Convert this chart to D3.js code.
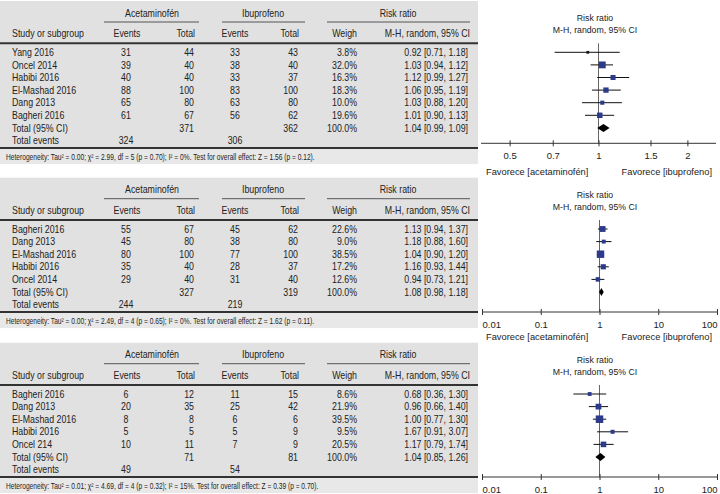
<!DOCTYPE html>
<html><head><meta charset="utf-8">
<script src="https://cdn.jsdelivr.net/npm/d3@7"></script>
<style>body{margin:0;background:#fff}svg{display:block}</style>
</head><body>
<svg id="chart" width="720" height="494"></svg>
<script>
// panel 1
var studies1 = ["Yang 2016", "Oncel 2014", "Habibi 2016", "El-Mashad 2016", "Dang 2013", "Bagheri 2016"];
var acetEvents1 = [31, 39, 40, 88, 65, 61];
var acetTotal1 = [44, 40, 40, 100, 80, 67];
var ibuEvents1 = [33, 38, 33, 83, 63, 56];
var ibuTotal1 = [43, 40, 37, 100, 80, 62];
var weight1 = [3.8, 32.0, 16.3, 18.3, 10.0, 19.6];
var rr1 = [0.92, 1.03, 1.12, 1.06, 1.03, 1.01];
var lo1 = [0.71, 0.94, 0.99, 0.95, 0.88, 0.90];
var hi1 = [1.18, 1.12, 1.27, 1.19, 1.20, 1.13];
var pooled1 = [1.04, 0.99, 1.09];
var sums1 = [324, 371, 306, 362];
var het1 = "Heterogeneity: Tau\u00b2 = 0.00; \u03c7\u00b2 = 2.99, df = 5 (p = 0.70); I\u00b2 = 0%. Test for overall effect: Z = 1.56 (p = 0.12).";
var ticks1 = [0.5, 0.7, 1, 1.5, 2];

// panel 2
var studies2 = ["Bagheri 2016", "Dang 2013", "El-Mashad 2016", "Habibi 2016", "Oncel 2014"];
var acetEvents2 = [55, 45, 80, 35, 29];
var acetTotal2 = [67, 80, 100, 40, 40];
var ibuEvents2 = [45, 38, 77, 28, 31];
var ibuTotal2 = [62, 80, 100, 37, 40];
var weight2 = [22.6, 9.0, 38.5, 17.2, 12.6];
var rr2 = [1.13, 1.18, 1.04, 1.16, 0.94];
var lo2 = [0.94, 0.88, 0.90, 0.93, 0.73];
var hi2 = [1.37, 1.60, 1.20, 1.44, 1.21];
var pooled2 = [1.08, 0.98, 1.18];
var sums2 = [244, 327, 219, 319];
var het2 = "Heterogeneity: Tau\u00b2 = 0.00; \u03c7\u00b2 = 2.49, df = 4 (p = 0.65); I\u00b2 = 0%. Test for overall effect: Z = 1.62 (p = 0.11).";

// panel 3
var studies3 = ["Bagheri 2016", "Dang 2013", "El-Mashad 2016", "Habibi 2016", "Oncel 214"];
var acetEvents3 = [6, 20, 8, 5, 10];
var acetTotal3 = [12, 35, 8, 5, 11];
var ibuEvents3 = [11, 25, 6, 5, 7];
var ibuTotal3 = [15, 42, 6, 9, 9];
var weight3 = [8.6, 21.9, 39.5, 9.5, 20.5];
var rr3 = [0.68, 0.96, 1.00, 1.67, 1.17];
var lo3 = [0.36, 0.66, 0.77, 0.91, 0.79];
var hi3 = [1.30, 1.40, 1.30, 3.07, 1.74];
var pooled3 = [1.04, 0.85, 1.26];
var sums3 = [49, 71, 54, 81];
var het3 = "Heterogeneity: Tau\u00b2 = 0.01; \u03c7\u00b2 = 4.69, df = 4 (p = 0.32); I\u00b2 = 15%. Test for overall effect: Z = 0.39 (p = 0.70).";
var ticks23 = [0.01, 0.1, 1, 10, 100];

var svg = d3.select("#chart");
var font = "'Liberation Sans',Arial,sans-serif";
var ink = "#222";
var f2 = d3.format(".2f"), f1 = d3.format(".1f");

// table text is condensed, so squeeze it horizontally
function txt(g, x, y, s, anchor, size, sx) {
    return g.append("text")
        .attr("transform", "translate(" + x + "," + y + ") scale(" + (sx || 0.84) + ",1)")
        .attr("dy", "0.35em")
        .attr("text-anchor", anchor || "start")
        .style("font-family", font)
        .style("font-size", (size || 10.5) + "px")
        .style("fill", ink)
        .text(s);
}

function drawPanel(p) {
    var g = svg.append("g").attr("transform", "translate(0," + p.top + ")");
    var n = p.studies.length;
    var rowY = function(i){ return 52.3 + i * 12.6; };
    var eventsY = rowY(n + 1);
    var lineY = eventsY + 7.5, hetY = lineY + 9, bottom = hetY + 7;

    g.append("rect").attr("x", 0).attr("y", 1).attr("width", 478).attr("height", lineY - 1).style("fill", "#e1e1e1");
    g.append("rect").attr("x", 0).attr("y", lineY).attr("width", 478).attr("height", bottom - lineY).style("fill", "#e8e8e8");

    // group headers
    txt(g, 152, 13, "Acetaminof\u00e9n", "middle");
    txt(g, 263, 13, "Ibuprofeno", "middle");
    txt(g, 398, 13, "Risk ratio", "middle");
    [[104, 199], [222, 305], [327, 470]].forEach(function(s){
        g.append("line").attr("x1", s[0]).attr("x2", s[1]).attr("y1", 22).attr("y2", 22)
            .style("stroke", "#555").style("stroke-width", 1);
    });
    txt(g, 12, 33.3, "Study or subgroup");
    txt(g, 127, 33.3, "Events", "middle");
    txt(g, 195, 33.3, "Total", "end");
    txt(g, 235, 33.3, "Events", "middle");
    txt(g, 299, 33.3, "Total", "end");
    txt(g, 357, 33.3, "Weigh", "end");
    txt(g, 470, 33.3, "M-H, random, 95% CI", "end");

    [43.3, lineY].forEach(function(y){
        g.append("line").attr("x1", 0).attr("x2", 478).attr("y1", y).attr("y2", y)
            .style("stroke", "#333").style("stroke-width", 2);
    });

    var rows = p.studies.map(function(s, i){
        return {name: s, ae: p.acetEvents[i], at: p.acetTotal[i], ie: p.ibuEvents[i], it: p.ibuTotal[i],
                w: p.weight[i], rr: p.rr[i], lo: p.lo[i], hi: p.hi[i], y: rowY(i)};
    });
    rows.forEach(function(r){
        txt(g, 12, r.y, r.name);
        txt(g, 126, r.y, r.ae, "middle");
        txt(g, 194, r.y, r.at, "end");
        txt(g, 235, r.y, r.ie, "middle");
        txt(g, 298, r.y, r.it, "end");
        txt(g, 357, r.y, f1(r.w) + "%", "end");
        txt(g, 468, r.y, f2(r.rr) + " [" + f2(r.lo) + ", " + f2(r.hi) + "]", "end");
    });
    var ty = rowY(n);
    txt(g, 12, ty, "Total (95% CI)");
    txt(g, 194, ty, p.sums[1], "end");
    txt(g, 298, ty, p.sums[3], "end");
    txt(g, 357, ty, "100.0%", "end");
    txt(g, 468, ty, f2(p.pooled[0]) + " [" + f2(p.pooled[1]) + ", " + f2(p.pooled[2]) + "]", "end");
    txt(g, 12, eventsY, "Total events");
    txt(g, 126, eventsY, p.sums[0], "middle");
    txt(g, 235, eventsY, p.sums[2], "middle");
    txt(g, 6, hetY, p.het, "start", 8.3, 0.8);

    // forest plot
    var x = d3.scaleLog().domain(p.domain).range(p.range);
    var ay = p.axisY - p.top;
    txt(g, 595, 17.5, "Risk ratio", "middle", 9.5, 0.92);
    txt(g, 595, 30, "M-H, random, 95% CI", "middle", 9.5, 0.92);
    g.append("line").attr("x1", x(1)).attr("x2", x(1)).attr("y1", 43.3).attr("y2", ay)
        .style("stroke", "#666").style("stroke-width", 1);

    var axis = d3.axisBottom(x).tickValues(p.ticks).tickFormat(d3.format("")).tickSizeInner(3).tickSizeOuter(0).tickPadding(6);
    var ag = g.append("g").attr("transform", "translate(0," + ay + ")").call(axis);
    ag.select(".domain").attr("d", "M" + p.range[0] + ",0H" + p.range[1]).style("stroke", "#333");
    ag.selectAll(".tick line").attr("y1", -3).attr("y2", 3).style("stroke", "#333");
    var last = p.ticks.length - 1;
    ag.selectAll(".tick text")
        .style("font-family", font).style("font-size", "9.5px").style("fill", ink)
        .attr("text-anchor", function(d, i){
            if (!p.clamp) return "middle";
            return i === 0 ? "start" : (i === last ? "end" : "middle");
        });

    rows.forEach(function(r){
        g.append("line").attr("x1", x(r.lo)).attr("x2", x(r.hi)).attr("y1", r.y).attr("y2", r.y)
            .style("stroke", "#111").style("stroke-width", 1);
        var s = 1.1 * Math.sqrt(r.w) + 0.6;
        g.append("rect").attr("x", x(r.rr) - s / 2).attr("y", r.y - s / 2).attr("width", s).attr("height", s)
            .style("fill", r.w < 5 ? "#111" : "#2b3a8a");
    });
    g.append("path")
        .attr("d", "M" + x(p.pooled[1]) + "," + ty + "L" + x(p.pooled[0]) + "," + (ty - 4) +
            "L" + x(p.pooled[2]) + "," + ty + "L" + x(p.pooled[0]) + "," + (ty + 4) + "Z")
        .style("fill", "#000");

    if (p.favY) {
        txt(g, 486, p.favY - p.top, "Favorece [acetaminof\u00e9n]", "start", 9.3, 1);
        txt(g, 712, p.favY - p.top, "Favorece [ibuprofeno]", "end", 9.3, 1);
    }
}

drawPanel({top: 0, studies: studies1, acetEvents: acetEvents1, acetTotal: acetTotal1, ibuEvents: ibuEvents1,
    ibuTotal: ibuTotal1, weight: weight1, rr: rr1, lo: lo1, hi: hi1, pooled: pooled1, sums: sums1, het: het1,
    ticks: ticks1, domain: [0.4, 2.5], range: [481, 716], axisY: 143.3, favY: 172, clamp: false});
drawPanel({top: 176.7, studies: studies2, acetEvents: acetEvents2, acetTotal: acetTotal2, ibuEvents: ibuEvents2,
    ibuTotal: ibuTotal2, weight: weight2, rr: rr2, lo: lo2, hi: hi2, pooled: pooled2, sums: sums2, het: het2,
    ticks: ticks23, domain: [0.01, 100], range: [482, 717], axisY: 312, favY: 337, clamp: true});
drawPanel({top: 341.7, studies: studies3, acetEvents: acetEvents3, acetTotal: acetTotal3, ibuEvents: ibuEvents3,
    ibuTotal: ibuTotal3, weight: weight3, rr: rr3, lo: lo3, hi: hi3, pooled: pooled3, sums: sums3, het: het3,
    ticks: ticks23, domain: [0.01, 100], range: [482, 717], axisY: 477, favY: null, clamp: true});
</script>
</body></html>
